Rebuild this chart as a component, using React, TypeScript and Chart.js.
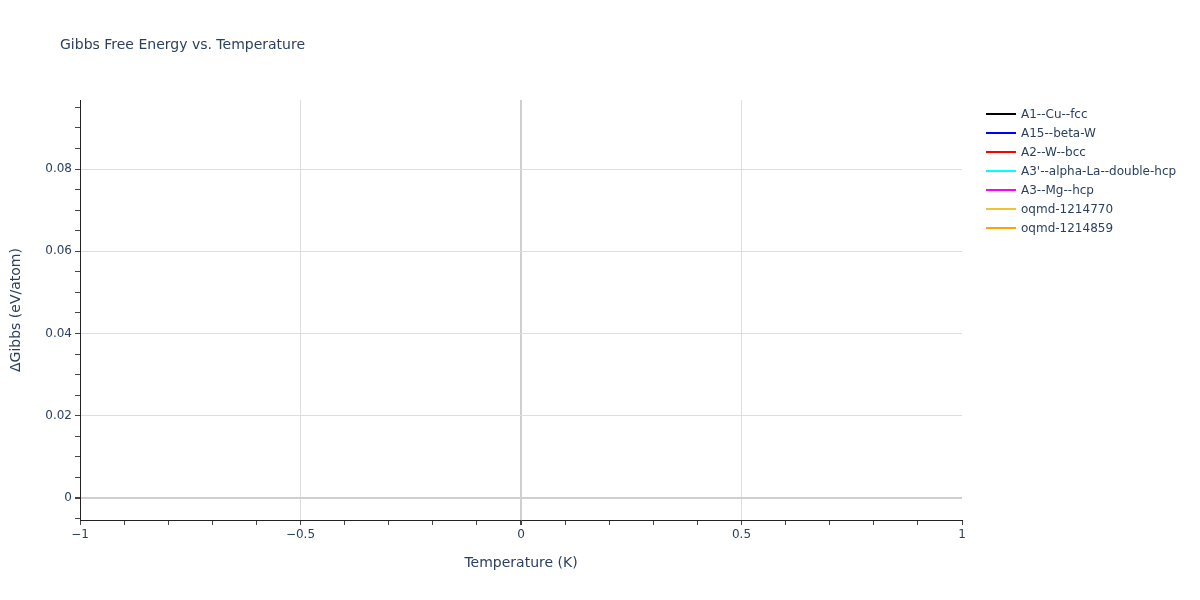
import React, { useEffect, useRef } from "react";
import { Chart, registerables } from "chart.js";

Chart.register(...registerables);

// phases shown in the legend; the curves have no points in this plot
const seriesNames = [
  "A1--Cu--fcc",
  "A15--beta-W",
  "A2--W--bcc",
  "A3'--alpha-La--double-hcp",
  "A3--Mg--hcp",
  "oqmd-1214770",
  "oqmd-1214859",
];
const seriesColors = [
  "#000000",
  "#0000ff",
  "#ff0000",
  "#00ffff",
  "#ff00ff",
  "#f0c232",
  "#ffa500",
];
const temperatures: number[] = [];
const seriesValues: number[][] = [[], [], [], [], [], [], []];

const xTickLabels = [-1, -0.5, 0, 0.5, 1];
const yTickLabels = [0, 0.02, 0.04, 0.06, 0.08];

const FONT = '"DejaVu Sans", Verdana, sans-serif';
const TEXT = "#2a3f5f";

const fmt = (v: number) => {
  const s = String(Math.round(v * 1000) / 1000);
  return s.replace("-", "\u2212");
};

const near = (v: number, list: number[]) =>
  list.some((t) => Math.abs(t - v) < 1e-9);

const overlay = {
  id: "overlay",
  afterDraw(chart: Chart) {
    const ctx = chart.ctx;
    const area = chart.chartArea;
    ctx.save();
    // title
    ctx.fillStyle = TEXT;
    ctx.font = `14px ${FONT}`;
    ctx.textAlign = "left";
    ctx.textBaseline = "middle";
    ctx.fillText("Gibbs Free Energy vs. Temperature", 60, 45);
    // axis titles
    ctx.font = `14px ${FONT}`;
    ctx.textAlign = "center";
    ctx.fillText("Temperature (K)", (area.left + area.right) / 2, 563);
    ctx.save();
    ctx.translate(16, (area.top + area.bottom) / 2);
    ctx.rotate(-Math.PI / 2);
    ctx.fillText("\u0394Gibbs (eV/atom)", 0, 0);
    ctx.restore();
    // legend
    ctx.font = `12px ${FONT}`;
    ctx.textAlign = "left";
    chart.data.datasets.forEach((ds, i) => {
      const y = 114 + i * 19;
      ctx.strokeStyle = ds.borderColor as string;
      ctx.lineWidth = 2;
      ctx.beginPath();
      ctx.moveTo(986, y);
      ctx.lineTo(1016, y);
      ctx.stroke();
      ctx.fillStyle = TEXT;
      ctx.fillText(ds.label as string, 1021, y + 1);
    });
    ctx.restore();
  },
};

export default function App() {
  const canvasRef = useRef<HTMLCanvasElement>(null);

  useEffect(() => {
    document.body.style.margin = "0";
    if (!canvasRef.current) return;

    const chart = new Chart(canvasRef.current, {
      type: "line",
      data: {
        labels: temperatures,
        datasets: seriesNames.map((name, i) => ({
          label: name,
          data: seriesValues[i].map((v, j) => ({ x: temperatures[j], y: v })),
          borderColor: seriesColors[i],
          backgroundColor: seriesColors[i],
          borderWidth: 2,
          pointRadius: 0,
        })),
      },
      options: {
        animation: false,
        responsive: false,
        layout: { padding: { left: 0, top: 100, right: 238, bottom: 0 } },
        plugins: {
          legend: { display: false },
          title: { display: false },
          tooltip: { enabled: false },
        },
        scales: {
          x: {
            type: "linear",
            min: -1,
            max: 1,
            afterFit: (s: any) => {
              s.height = 80;
            },
            afterBuildTicks: (s: any) => {
              const t = [];
              for (let i = -10; i <= 10; i++) t.push({ value: i / 10 });
              s.ticks = t;
            },
            border: { display: true, color: "#222", width: 1 },
            grid: {
              drawOnChartArea: true,
              tickLength: 5,
              tickColor: "#444",
              color: (c: any) => {
                const v = c.tick?.value;
                if (v === undefined) return "transparent";
                if (Math.abs(v) < 1e-9) return "#cfcfcf";
                if (Math.abs(v) > 0.999) return "transparent";
                return near(v, xTickLabels) ? "#dedede" : "transparent";
              },
              lineWidth: (c: any) =>
                c.tick && Math.abs(c.tick.value) < 1e-9 ? 2 : 1,
            },
            ticks: {
              autoSkip: false,
              maxRotation: 0,
              padding: 3,
              color: TEXT,
              font: { family: FONT, size: 12 },
              callback: (v: any) => (near(Number(v), xTickLabels) ? fmt(Number(v)) : ""),
            },
          },
          y: {
            type: "linear",
            min: -0.00535,
            max: 0.0968,
            afterFit: (s: any) => {
              s.width = 80;
            },
            afterBuildTicks: (s: any) => {
              const t = [];
              for (let i = -1; i <= 19; i++) t.push({ value: i * 0.005 });
              s.ticks = t;
            },
            border: { display: true, color: "#222", width: 1 },
            grid: {
              tickLength: 5,
              tickColor: "#444",
              color: (c: any) => {
                const v = c.tick?.value;
                if (v === undefined) return "transparent";
                if (Math.abs(v) < 1e-9) return "#cfcfcf";
                return near(v, yTickLabels) ? "#dedede" : "transparent";
              },
              lineWidth: (c: any) =>
                c.tick && Math.abs(c.tick.value) < 1e-9 ? 2 : 1,
            },
            ticks: {
              autoSkip: false,
              padding: 3,
              color: TEXT,
              font: { family: FONT, size: 12 },
              callback: (v: any) => (near(Number(v), yTickLabels) ? fmt(Number(v)) : ""),
            },
          },
        },
      },
      plugins: [overlay],
    });

    return () => chart.destroy();
  }, []);

  return (
    <div style={{ width: 1200, height: 600, background: "#fff" }}>
      <canvas ref={canvasRef} width={1200} height={600} />
    </div>
  );
}
